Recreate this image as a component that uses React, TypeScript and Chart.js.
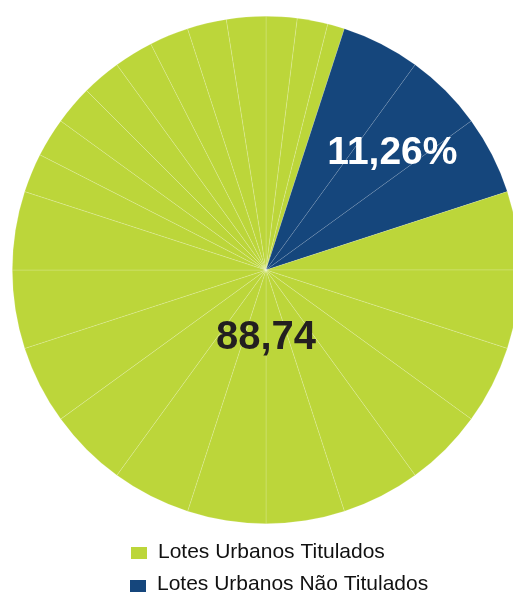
import React, { useEffect, useRef } from "react";
import { Chart, registerables } from "chart.js";

Chart.register(...registerables);

// Series (legend) labels and their displayed values
const seriesLabels = ["Lotes Urbanos Titulados", "Lotes Urbanos Não Titulados"];
const seriesValueLabels = ["88,74", "11,26%"];
const seriesColors = ["#bcd63a", "#15467c"];

// Facet slices of the pie, clockwise from the top (sizes in degrees)
const sliceValues = [
  7.1, 7, 3.9, // green
  18, 18, 18, // blue
  18, 18, 18, 18, 18, 18, 18, 18, 18, 18, 18, 18, // green
  9, 9, 9, 9, 9, 9, 9, 9, // green
];
const sliceSeries = [
  0, 0, 0,
  1, 1, 1,
  0, 0, 0, 0, 0, 0, 0, 0, 0, 0, 0, 0,
  0, 0, 0, 0, 0, 0, 0, 0,
];

const FONT = "'Liberation Sans', Arial, Helvetica, sans-serif";

const labelsPlugin = {
  id: "customLabels",
  afterDraw(chart: any) {
    const ctx = chart.ctx;
    const meta = chart.getDatasetMeta(0);
    const arc = meta.data[0];
    if (!arc) return;
    const cx = arc.x;
    const cy = arc.y;
    const r = arc.outerRadius;

    ctx.save();
    ctx.textAlign = "center";
    ctx.textBaseline = "middle";

    // blue series label: centre of its angular range
    let start = -Math.PI / 2;
    const total = sliceValues.reduce((a, b) => a + b, 0);
    const ranges: number[][] = [[], []];
    sliceValues.forEach((v, i) => {
      const a0 = start;
      const a1 = start + (v / total) * Math.PI * 2;
      ranges[sliceSeries[i]].push(a0, a1);
      start = a1;
    });
    const blueMid = (Math.min(...ranges[1]) + Math.max(...ranges[1])) / 2 + 0.037;
    ctx.fillStyle = "#ffffff";
    ctx.font = `bold 39px ${FONT}`;
    ctx.fillText(
      seriesValueLabels[1],
      cx + Math.cos(blueMid) * r * 0.68,
      cy + Math.sin(blueMid) * r * 0.68 + 1
    );

    ctx.fillStyle = "#231f20";
    ctx.font = `bold 40px ${FONT}`;
    ctx.fillText(seriesValueLabels[0], cx, cy + r * 0.265 + 1);

    // legend
    const rows = [
      { sx: 131, sy: 547, tx: 158, ty: 558 },
      { sx: 130, sy: 580, tx: 157, ty: 590 },
    ];
    ctx.textAlign = "left";
    ctx.textBaseline = "alphabetic";
    ctx.font = `21px ${FONT}`;
    seriesLabels.forEach((lab, i) => {
      const row = rows[i];
      ctx.fillStyle = seriesColors[i];
      ctx.fillRect(row.sx, row.sy, 16, 12);
      ctx.fillStyle = "#111111";
      ctx.fillText(lab, row.tx, row.ty);
    });
    ctx.restore();
  },
};

export default function App() {
  const ref = useRef<HTMLCanvasElement>(null);
  useEffect(() => {
    if (!ref.current) return;
    const chart = new Chart(ref.current, {
      type: "pie",
      data: {
        labels: sliceValues.map((_, i) => seriesLabels[sliceSeries[i]]),
        datasets: [
          {
            data: sliceValues,
            backgroundColor: sliceSeries.map((s) => seriesColors[s]),
            borderColor: sliceSeries.map((s) =>
              s === 0 ? "rgba(255,255,255,0.28)" : "rgba(255,255,255,0.18)"
            ),
            borderWidth: 0.6,
            hoverOffset: 0,
            offset: 0,
          },
        ],
      },
      options: {
        responsive: false,
        animation: false,
        events: [],
        layout: { padding: { top: 16, left: 12, right: 12, bottom: 68 } },
        plugins: {
          legend: { display: false },
          tooltip: { enabled: false },
        },
      },
      plugins: [labelsPlugin],
    });
    return () => chart.destroy();
  }, []);
  return (
    <div
      style={{
        position: "fixed",
        left: 0,
        top: 0,
        width: 513,
        height: 592,
        overflow: "hidden",
        background: "#ffffff",
      }}
    >
      <canvas ref={ref} width={532} height={592} style={{ display: "block" }} />
    </div>
  );
}
